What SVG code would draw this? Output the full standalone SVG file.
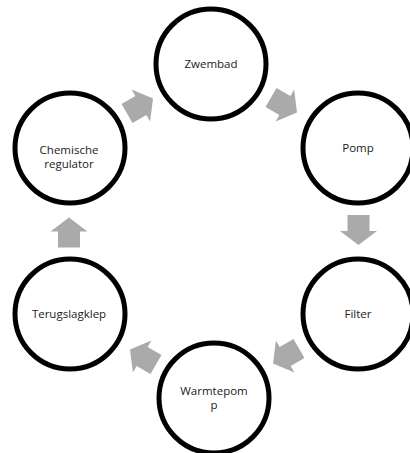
<svg xmlns="http://www.w3.org/2000/svg" width="410" height="453" viewBox="0 0 410 453">
<defs>
<style>
.node circle{fill:#fff;stroke:#000;stroke-width:5}
.node text{font-family:"Open Sans","Liberation Sans",sans-serif;font-size:11.5px;fill:#222;text-anchor:middle}
.arr{fill:#aaaaaa}
</style>
<polygon id="ar" points="-15,-11 1,-11 1,-18.5 15,0 1,18.5 1,11 -15,11"/>
</defs>
<rect width="410" height="453" fill="#fff"/>
<g id="connectors">
<use href="#ar" class="arr" transform="translate(284,105) rotate(30)"/>
<use href="#ar" class="arr" transform="translate(358.5,230) rotate(90)"/>
<use href="#ar" class="arr" transform="translate(286,356) rotate(150)"/>
<use href="#ar" class="arr" transform="translate(143,357) rotate(210)"/>
<use href="#ar" class="arr" transform="translate(69,232.5) rotate(270)"/>
<use href="#ar" class="arr" transform="translate(140,106) rotate(330)"/>
</g>
<g id="zwembad" class="node"><circle cx="211" cy="64" r="55"/><text x="211" y="68">Zwembad</text></g>
<g id="pomp" class="node"><circle cx="358" cy="148" r="55"/><text x="358" y="152">Pomp</text></g>
<g id="filter" class="node"><circle cx="358" cy="314" r="55"/><text x="358" y="318">Filter</text></g>
<g id="warmtepomp" class="node"><circle cx="214" cy="398" r="55"/><text x="214" y="395">Warmtepom</text><text x="214" y="409">p</text></g>
<g id="terugslagklep" class="node"><circle cx="70" cy="314" r="55"/><text x="69" y="318">Terugslagklep</text></g>
<g id="chemische" class="node"><circle cx="70" cy="148" r="55"/><text x="69" y="154">Chemische</text><text x="69" y="168">regulator</text></g>
</svg>
